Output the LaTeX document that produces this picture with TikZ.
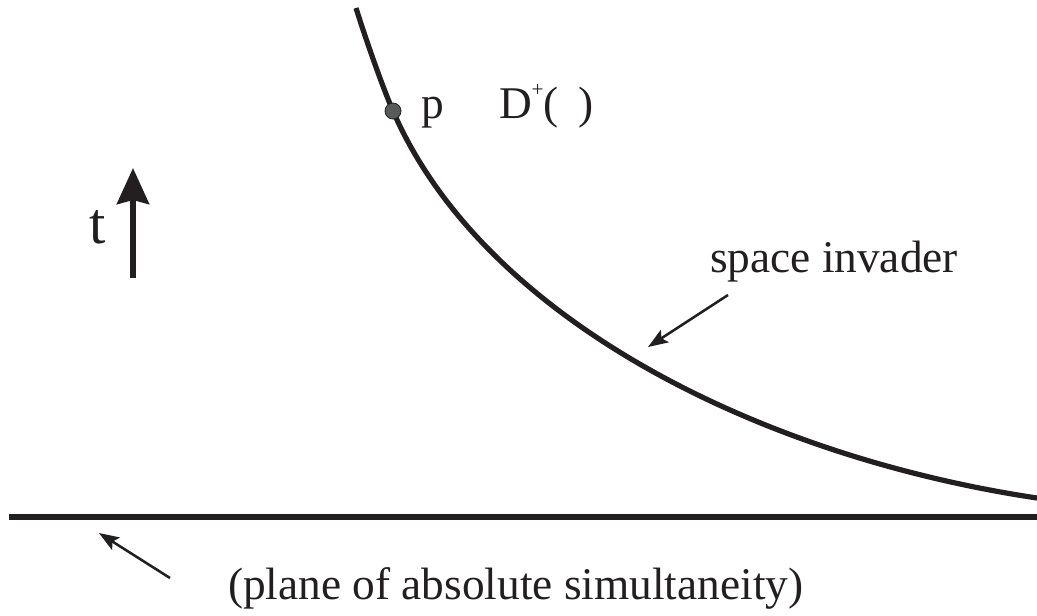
\documentclass[tikz,border=0pt]{standalone}
\usepackage{fontspec}
\setmainfont{Liberation Serif}
\usetikzlibrary{arrows.meta}
\definecolor{ink}{HTML}{231F20}
\definecolor{dotgray}{HTML}{58595B}
\tikzset{
  lbl/.style={anchor=base west, inner sep=0pt, outer sep=0pt, text=ink, font=\fontsize{34}{40}\selectfont},
  thickline/.style={draw=ink, line width=3.9pt},
  pointer/.style={draw=ink, line width=1.9pt, -{Stealth[length=15pt, width=11pt, inset=3pt]}},
  timearrow/.style={draw=ink, line width=4.5pt, -{Stealth[length=27pt, width=24pt, inset=3pt]}}
}
\begin{document}
\begin{tikzpicture}[x=0.75pt, y=-0.75pt]
  \useasboundingbox (0,0) rectangle (1037,615);
  % simultaneity plane
  \coordinate (planeL) at (9,517);
  \coordinate (planeR) at (1037,517);
  \draw[thickline] (planeL) -- (planeR);
  % space invader curve
  \coordinate (cTop) at (356,8);
  \coordinate (cP) at (393,111);
  \coordinate (cEnd) at (1037,498);
  \draw[thickline] (cTop) .. controls (364,33.6) and (381,83.4) .. (cP)
                          .. controls (483,318) and (757,456) .. (cEnd);
  % point p
  \node[circle, fill=dotgray, draw=ink, line width=0.6pt, minimum size=12pt, inner sep=0pt] (dot) at (cP) {};
  \node[lbl] (p) at (421,118) {p};
  \node[lbl] (D) at (499,118) {D\raisebox{0.48em}{\fontsize{16}{16}\selectfont +}(\hspace{15pt})};
  % time arrow
  \node[lbl, font=\fontsize{44}{50}\selectfont] (t) at (89,243) {t};
  \coordinate (tbase) at (133,278);
  \coordinate (ttip) at (133,168);
  \draw[timearrow] (tbase) -- (ttip);
  % labels
  \node[lbl] (invader) at (710,272) {space invader};
  \coordinate (invTail) at (728,295);
  \coordinate (invTip) at (648,347);
  \draw[pointer] (invTail) -- (invTip);
  \node[lbl] (plane) at (228,599) {(plane of absolute simultaneity)};
  \coordinate (plTail) at (170,578);
  \coordinate (plTip) at (99,533);
  \draw[pointer] (plTail) -- (plTip);
\end{tikzpicture}
\end{document}
